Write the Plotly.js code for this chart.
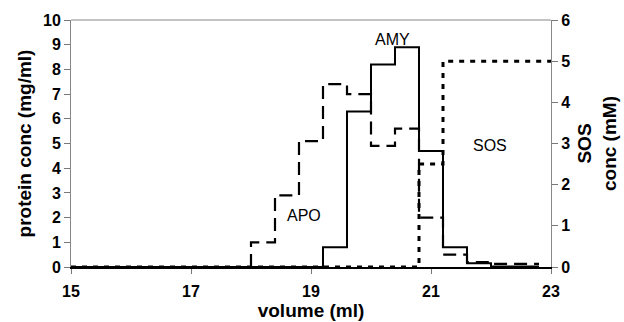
<!DOCTYPE html>
<html><head><meta charset="utf-8">
<script src="https://cdn.plot.ly/plotly-3.0.1.min.js"></script>
<style>html,body{margin:0;padding:0;background:#fff}#c{width:624px;height:322px}</style>
</head><body><div id="c"></div>
<script>
// step edges (ml) and levels
const amyX = [15, 19.2, 19.6, 20.0, 20.4, 20.8, 21.2, 21.6, 22.0, 22.8];
const amyY = [0, 0.8, 6.3, 8.2, 8.9, 4.7, 0.8, 0.15, 0.02, 0.02];
const apoX = [15, 18.0, 18.4, 18.8, 19.2, 19.6, 20.0, 20.4, 20.8, 21.2, 21.6, 22.0, 22.8];
const apoY = [0, 1.0, 2.9, 5.1, 7.4, 7.0, 4.9, 5.6, 2.0, 0.5, 0.2, 0.13, 0.13];
const sosX = [15, 20.8, 21.2, 23];
const sosY = [0, 2.5, 5.0, 5.0];
const xTicks = [15, 17, 19, 21, 23];
const yTicks = [0, 1, 2, 3, 4, 5, 6, 7, 8, 9, 10];
const y2Ticks = [0, 1, 2, 3, 4, 5, 6];
const labels = [
  {text: 'APO', x: 18.88, y: 2.1},
  {text: 'AMY', x: 20.36, y: 9.2},
  {text: 'SOS', x: 21.99, y: 4.9}
];

const F = 'Liberation Sans, Arial, sans-serif';
const b = v => '<b>' + v + '</b>';
const traces = [
  {x: sosX, y: sosY, yaxis: 'y2', mode: 'lines', line: {shape: 'hv', color: '#000', width: 3, dash: '5px,6px'}},
  {x: apoX, y: apoY, mode: 'lines', line: {shape: 'hv', color: '#000', width: 2.2, dash: '13px,7px'}},
  {x: amyX, y: amyY, mode: 'lines', line: {shape: 'hv', color: '#000', width: 2}}
];
const tf = {family: F, size: 16, color: '#000', weight: 'bold'};
const ttf = {family: F, size: 19, color: '#000'};
const layout = {
  width: 624, height: 322,
  margin: {l: 71, r: 73, t: 20, b: 55},
  showlegend: false,
  paper_bgcolor: '#fff', plot_bgcolor: '#fff',
  font: {family: F, color: '#000'},
  xaxis: {
    range: [15, 23], tickvals: xTicks, ticktext: xTicks.map(b), ticks: 'outside', ticklen: 5, tickcolor: '#777',
    ticklabelstandoff: 4,
    showgrid: false, zeroline: false, showline: true, linecolor: '#000', linewidth: 1.5,
    tickfont: tf,
    title: {text: b('volume (ml)'), font: ttf, standoff: 0}
  },
  yaxis: {
    range: [0, 10], tickvals: yTicks, ticktext: yTicks.map(b), ticks: 'outside', ticklen: 6, tickcolor: '#777',
    showgrid: false, zeroline: false, showline: true, linecolor: '#888', linewidth: 1,
    tickfont: tf,
    title: {text: b('protein conc (mg/ml)'), font: ttf, standoff: 6}
  },
  yaxis2: {
    overlaying: 'y', side: 'right', range: [0, 6], tickvals: y2Ticks, ticktext: y2Ticks.map(b), ticks: 'outside', ticklen: 6, tickcolor: '#777',
    showgrid: false, zeroline: false, showline: true, linecolor: '#888', linewidth: 1,
    tickfont: tf,
    title: {text: b('SOS') + '<br>' + b('conc (mM)'), font: ttf, standoff: 8}
  },
  shapes: [{type: 'line', xref: 'paper', yref: 'paper', x0: 0, x1: 1, y0: 1, y1: 1, line: {color: '#888', width: 1}}],
  annotations: labels.map(l => ({text: l.text, x: l.x, y: l.y, xref: 'x', yref: 'y', showarrow: false,
    font: {family: F, size: 16, color: '#000'}}))
};
Plotly.newPlot('c', traces, layout, {staticPlot: true, displayModeBar: false});
</script></body></html>
